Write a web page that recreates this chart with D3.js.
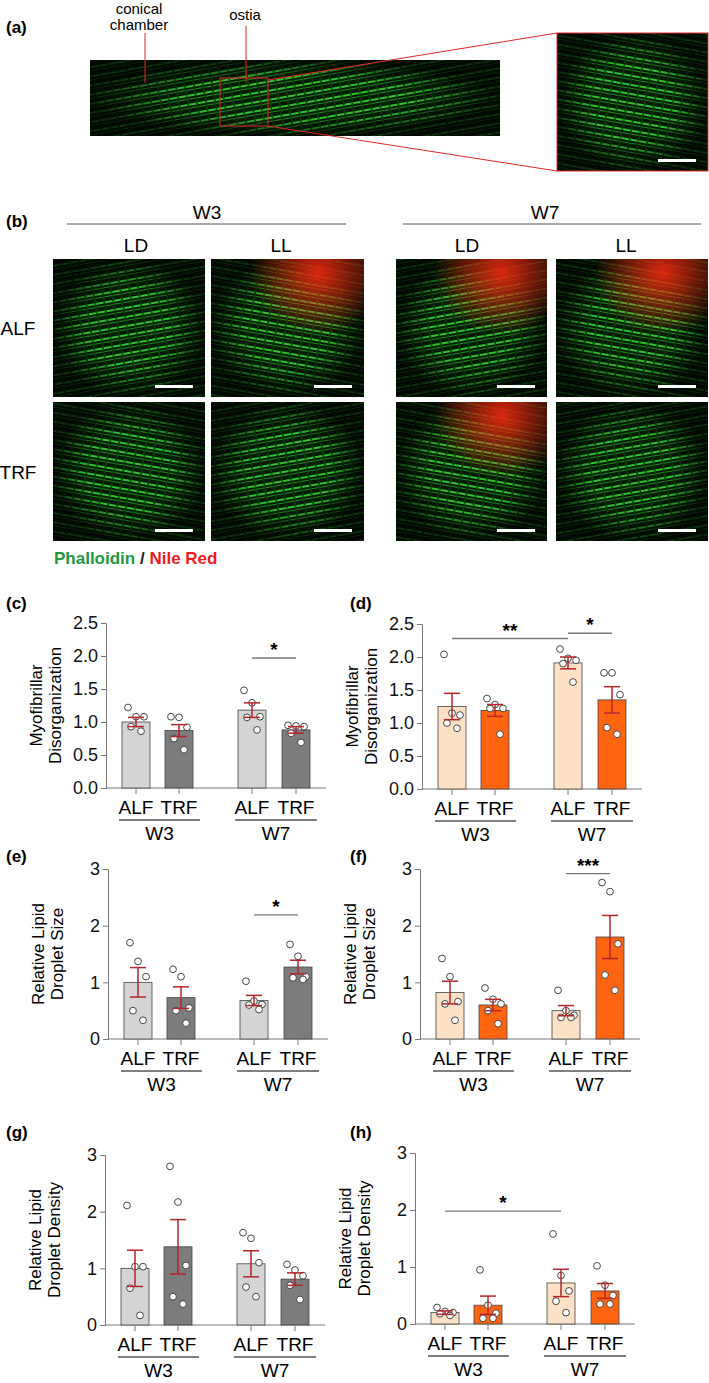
<!DOCTYPE html>
<html><head><meta charset="utf-8">
<script src="https://cdn.jsdelivr.net/npm/d3@7"></script>
<style>body{margin:0;background:#fff}svg{display:block}</style>
</head><body>
<svg id="fig" width="709" height="1383"></svg>
<script>
// group labels and treatment labels
var groups = ["W3", "W7"];
var diets = ["ALF", "TRF"];

// bar means in order W3 ALF, W3 TRF, W7 ALF, W7 TRF
var cMeans = [1.0, 0.87, 1.18, 0.88];
var cSem = [0.07, 0.09, 0.11, 0.05];
var cPoints = [[1.22, 1.08, 1.08, 0.93, 0.86], [1.08, 1.07, 0.92, 0.75, 0.58], [1.48, 1.29, 1.08, 1.07, 0.88], [0.95, 0.94, 0.93, 0.83, 0.69]];

var dMeans = [1.25, 1.19, 1.91, 1.35];
var dSem = [0.2, 0.09, 0.09, 0.2];
var dPoints = [[2.04, 1.15, 1.12, 1.0, 0.92], [1.37, 1.28, 1.22, 1.22, 0.83], [2.12, 1.98, 1.95, 1.9, 1.62], [1.76, 1.76, 1.43, 0.93, 0.83]];

var eMeans = [1.0, 0.73, 0.68, 1.27];
var eSem = [0.26, 0.19, 0.09, 0.12];
var ePoints = [[1.70, 1.37, 1.10, 0.5, 0.33], [1.23, 1.1, 0.55, 0.5, 0.28], [1.02, 0.67, 0.61, 0.6, 0.52], [1.67, 1.46, 1.1, 1.08, 1.05]];

var fMeans = [0.82, 0.6, 0.5, 1.8];
var fSem = [0.2, 0.1, 0.09, 0.38];
var fPoints = [[1.42, 1.1, 0.66, 0.62, 0.33], [0.9, 0.7, 0.62, 0.5, 0.27], [0.86, 0.5, 0.42, 0.38, 0.38], [2.76, 2.6, 1.68, 1.13, 0.86]];

var gMeans = [1.0, 1.38, 1.08, 0.81];
var gSem = [0.32, 0.48, 0.23, 0.11];
var gPoints = [[2.11, 1.03, 1.03, 0.65, 0.17], [2.8, 2.17, 1.05, 0.5, 0.37], [1.63, 1.53, 1.1, 0.67, 0.5], [1.07, 0.97, 0.87, 0.7, 0.45]];

var hMeans = [0.2, 0.33, 0.72, 0.58];
var hSem = [0.03, 0.16, 0.24, 0.13];
var hPoints = [[0.29, 0.22, 0.2, 0.18, 0.15], [0.95, 0.33, 0.19, 0.1, 0.1], [1.58, 0.85, 0.58, 0.4, 0.2], [1.02, 0.68, 0.5, 0.35, 0.35]];

var cTicks = [0, 0.5, 1.0, 1.5, 2.0, 2.5];
var lipidTicks = [0, 1, 2, 3];

var greyFill = ["#d4d4d4", "#7c7c7c", "#d4d4d4", "#7c7c7c"];
var orangeFill = ["#fde1c6", "#ff6410", "#fde1c6", "#ff6410"];
var errRed = "#b3262a";
var narrow = "'Liberation Sans Narrow', 'Liberation Sans', Arial, sans-serif";
var sans = "'Liberation Sans', Arial, sans-serif";

var svg = d3.select("#fig");
var defs = svg.append("defs");

// fake micrograph textures
function makePattern(id, angle) {
    var p = defs.append("pattern").attr("id", id).attr("patternUnits", "userSpaceOnUse")
        .attr("width", 9).attr("height", 9).attr("patternTransform", "rotate(" + angle + ")");
    p.append("rect").attr("width", 9).attr("height", 9).attr("fill", "#041a04");
    p.append("rect").attr("width", 2).attr("height", 9).attr("fill", "#2fbf2f");
    p.append("rect").attr("x", 4).attr("width", 1).attr("height", 9).attr("fill", "#1f8a1f");
    p.append("rect").attr("y", 3).attr("width", 9).attr("height", 1.5).attr("fill", "#0c3d0c");
}
makePattern("tex1", 80);
makePattern("tex2", 100);
var rg = defs.append("radialGradient").attr("id", "vig");
rg.append("stop").attr("offset", "55%").attr("stop-color", "#000").attr("stop-opacity", 0);
rg.append("stop").attr("offset", "100%").attr("stop-color", "#000").attr("stop-opacity", 0.75);
var rr = defs.append("radialGradient").attr("id", "nile").attr("cx", "70%").attr("cy", "10%").attr("r", "45%");
rr.append("stop").attr("offset", "0%").attr("stop-color", "#ff2a10").attr("stop-opacity", 0.85);
rr.append("stop").attr("offset", "100%").attr("stop-color", "#ff2a10").attr("stop-opacity", 0);

function micro(x, y, w, h, tex, bar, red) {
    svg.append("rect").attr("x", x).attr("y", y).attr("width", w).attr("height", h).attr("fill", "url(#" + tex + ")");
    svg.append("rect").attr("x", x).attr("y", y).attr("width", w).attr("height", h).attr("fill", "url(#vig)");
    if (red) svg.append("rect").attr("x", x).attr("y", y).attr("width", w).attr("height", h).attr("fill", "url(#nile)");
    if (bar) svg.append("rect").attr("x", x + w - 50).attr("y", y + h - 12).attr("width", 38).attr("height", 3).attr("fill", "#fff");
}

function label(x, y, t) {
    svg.append("text").attr("x", x).attr("y", y).attr("font-family", sans).attr("font-weight", "bold")
        .attr("font-size", 17).text(t);
}

// (a)
label(6, 33, "(a)");
micro(90, 60, 410, 76, "tex1", false, false);
svg.append("rect").attr("x", 220).attr("y", 78).attr("width", 48).attr("height", 48).attr("fill", "none").attr("stroke", "#e0262a").attr("stroke-width", 1);
micro(557, 33, 151, 138, "tex2", true, false);
svg.append("rect").attr("x", 557).attr("y", 33).attr("width", 151).attr("height", 138).attr("fill", "none").attr("stroke", "#e0262a");
svg.append("line").attr("x1", 268).attr("y1", 80).attr("x2", 557).attr("y2", 33).attr("stroke", "#e0262a");
svg.append("line").attr("x1", 268).attr("y1", 126).attr("x2", 557).attr("y2", 171).attr("stroke", "#e0262a");
svg.append("line").attr("x1", 145).attr("y1", 33).attr("x2", 145).attr("y2", 83).attr("stroke", "#e0262a");
svg.append("line").attr("x1", 246).attr("y1", 26).attr("x2", 246).attr("y2", 83).attr("stroke", "#e0262a");
[["conical", 139, 14], ["chamber", 139, 30], ["ostia", 245, 20]].forEach(function(d) {
    svg.append("text").attr("x", d[1]).attr("y", d[2]).attr("text-anchor", "middle").attr("font-family", narrow)
        .attr("font-size", 15).text(d[0]);
});

// (b)
label(6, 227, "(b)");
var cols = [[53, 152], [211, 153], [396, 151], [556, 152]];
var rows = [[259, 138], [402, 139]];
var reds = [[false, true, true, true], [false, false, true, false]];
rows.forEach(function(r, ri) {
    cols.forEach(function(c, ci) {
        micro(c[0], r[0], c[1], r[1], (ci + ri) % 2 ? "tex2" : "tex1", true, reds[ri][ci]);
    });
});
[[207, "W3"], [545, "W7"]].forEach(function(d) {
    svg.append("text").attr("x", d[0]).attr("y", 219).attr("text-anchor", "middle").attr("font-family", narrow).attr("font-size", 19).text(d[1]);
});
svg.append("line").attr("x1", 67).attr("x2", 346).attr("y1", 224).attr("y2", 224).attr("stroke", "#555");
svg.append("line").attr("x1", 403).attr("x2", 701).attr("y1", 224).attr("y2", 224).attr("stroke", "#555");
[[136, "LD"], [281, "LL"], [467, "LD"], [626, "LL"]].forEach(function(d) {
    svg.append("text").attr("x", d[0]).attr("y", 252).attr("text-anchor", "middle").attr("font-family", narrow).attr("font-size", 19).text(d[1]);
});
[[328, "ALF"], [472, "TRF"]].forEach(function(d) {
    svg.append("text").attr("x", 18).attr("y", d[0] + 7).attr("text-anchor", "middle").attr("font-family", narrow).attr("font-size", 19).text(d[1]);
});
var leg = svg.append("text").attr("x", 54).attr("y", 564).attr("font-family", sans).attr("font-weight", "bold").attr("font-size", 17);
leg.append("tspan").attr("fill", "#1e9a3c").text("Phalloidin");
leg.append("tspan").attr("fill", "#222").text(" / ");
leg.append("tspan").attr("fill", "#ee1c1c").text("Nile Red");

// bar charts
function jit(i) { return [-8, 0, 8, -5, 5][i]; }

function drawChart(o) {
    var g = svg.append("g");
    label(o.lx, o.ly, o.tag);
    var y = d3.scaleLinear().domain([0, o.max]).range([o.y0, o.y1]);
    var cx = function(i) { return o.ax + [30, 73, 146, 190][i]; };
    var ax = g.append("g").attr("transform", "translate(" + o.ax + ",0)")
        .call(d3.axisLeft(y).tickValues(o.ticks).tickSize(5).tickFormat(o.fmt));
    ax.select(".domain").attr("stroke", "#777");
    ax.selectAll("line").attr("stroke", "#777");
    ax.selectAll("text").attr("font-family", narrow).attr("font-size", 18).attr("fill", "#111");
    g.append("line").attr("x1", o.ax).attr("x2", o.ax + 220).attr("y1", o.y0).attr("y2", o.y0).attr("stroke", "#777");
    o.means.forEach(function(m, i) {
        g.append("rect").attr("x", cx(i) - 14).attr("width", 28).attr("y", y(m)).attr("height", o.y0 - y(m))
            .attr("fill", o.fill[i]).attr("stroke", "#444").attr("stroke-width", 0.8);
        g.append("line").attr("x1", cx(i)).attr("x2", cx(i)).attr("y1", o.y0).attr("y2", o.y0 + 6).attr("stroke", "#777");
        g.append("text").attr("x", cx(i)).attr("y", o.y0 + 26).attr("text-anchor", "middle").attr("font-family", narrow)
            .attr("font-size", 19).text(diets[i % 2]);
    });
    o.pts.forEach(function(p, i) {
        p.forEach(function(v, k) {
            g.append("circle").attr("cx", cx(i) + jit(k)).attr("cy", y(v)).attr("r", 3.4)
                .attr("fill", "#fff").attr("stroke", "#333").attr("stroke-width", 0.9);
        });
    });
    o.means.forEach(function(m, i) {
        var lo = y(m - o.sem[i]), hi = y(m + o.sem[i]);
        g.append("line").attr("x1", cx(i)).attr("x2", cx(i)).attr("y1", lo).attr("y2", hi).attr("stroke", errRed).attr("stroke-width", 1.5);
        [lo, hi].forEach(function(yy) {
            g.append("line").attr("x1", cx(i) - 8).attr("x2", cx(i) + 8).attr("y1", yy).attr("y2", yy).attr("stroke", errRed).attr("stroke-width", 1.5);
        });
    });
    groups.forEach(function(gr, j) {
        var a = cx(j * 2) - 17, b = cx(j * 2 + 1) + 21;
        g.append("line").attr("x1", a).attr("x2", b).attr("y1", o.y0 + 32).attr("y2", o.y0 + 32).attr("stroke", "#555").attr("stroke-width", 1.3);
        g.append("text").attr("x", (a + b) / 2).attr("y", o.y0 + 52).attr("text-anchor", "middle").attr("font-family", narrow)
            .attr("font-size", 19).text(gr);
    });
    o.sig.forEach(function(s) {
        var yy = y(s[2]);
        g.append("line").attr("x1", cx(s[0])).attr("x2", cx(s[1])).attr("y1", yy).attr("y2", yy).attr("stroke", "#777").attr("stroke-width", 1.3);
        g.append("text").attr("x", (cx(s[0]) + cx(s[1])) / 2).attr("y", yy - 2).attr("text-anchor", "middle")
            .attr("font-family", sans).attr("font-weight", "bold").attr("font-size", 19).text(s[3]);
    });
    var yl = g.append("text").attr("transform", "translate(" + (o.ax - 62) + "," + ((o.y0 + o.y1) / 2) + ") rotate(-90)")
        .attr("text-anchor", "middle").attr("font-family", sans).attr("font-size", 17);
    yl.append("tspan").attr("x", 0).attr("dy", -2).text(o.ylab[0]);
    yl.append("tspan").attr("x", 0).attr("dy", 19).text(o.ylab[1]);
}

var f1 = d3.format(".1f"), f0 = d3.format("d");
var myo = ["Myofibrillar", "Disorganization"];
var size = ["Relative Lipid", "Droplet Size"];
var dens = ["Relative Lipid", "Droplet Density"];
drawChart({tag: "(c)", lx: 6, ly: 609, ax: 106, y0: 788, y1: 623, max: 2.5, ticks: cTicks, fmt: f1, means: cMeans, sem: cSem, pts: cPoints, fill: greyFill, ylab: myo, sig: [[2, 3, 1.97, "*"]]});
drawChart({tag: "(d)", lx: 350, ly: 609, ax: 422, y0: 789, y1: 624, max: 2.5, ticks: cTicks, fmt: f1, means: dMeans, sem: dSem, pts: dPoints, fill: orangeFill, ylab: myo, sig: [[0, 2, 2.28, "**"], [2, 3, 2.36, "*"]]});
drawChart({tag: "(e)", lx: 6, ly: 862, ax: 108, y0: 1039, y1: 869, max: 3, ticks: lipidTicks, fmt: f0, means: eMeans, sem: eSem, pts: ePoints, fill: greyFill, ylab: size, sig: [[2, 3, 2.19, "*"]]});
drawChart({tag: "(f)", lx: 350, ly: 862, ax: 420, y0: 1039, y1: 869, max: 3, ticks: lipidTicks, fmt: f0, means: fMeans, sem: fSem, pts: fPoints, fill: orangeFill, ylab: size, sig: [[2, 3, 2.92, "***"]]});
drawChart({tag: "(g)", lx: 6, ly: 1138, ax: 105, y0: 1325, y1: 1155, max: 3, ticks: lipidTicks, fmt: f0, means: gMeans, sem: gSem, pts: gPoints, fill: greyFill, ylab: dens, sig: []});
drawChart({tag: "(h)", lx: 350, ly: 1138, ax: 415, y0: 1324, y1: 1153, max: 3, ticks: lipidTicks, fmt: f0, means: hMeans, sem: hSem, pts: hPoints, fill: orangeFill, ylab: dens, sig: [[0, 2, 1.98, "*"]]});
</script>
</body></html>
